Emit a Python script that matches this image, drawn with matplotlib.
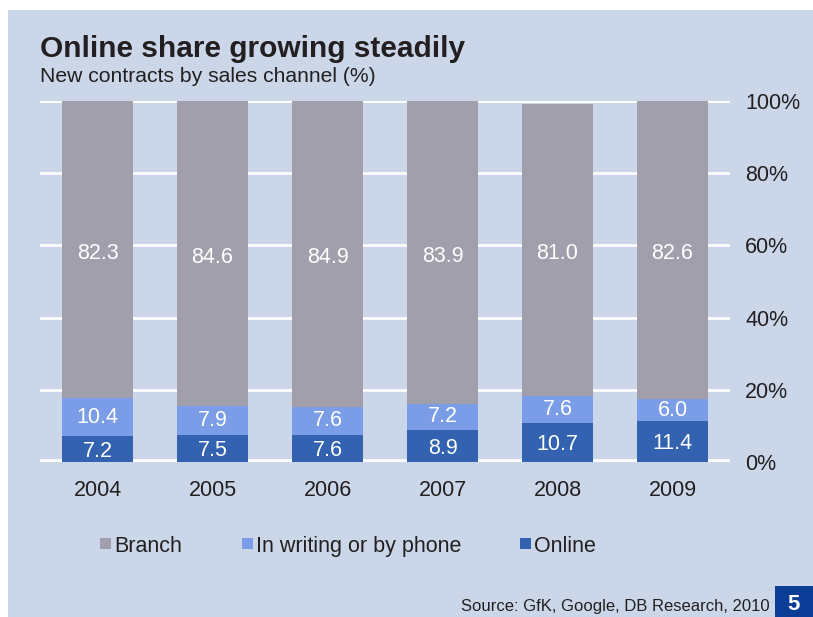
import matplotlib.pyplot as plt
from matplotlib.patches import Rectangle
import numpy as np

years = ['2004', '2005', '2006', '2007', '2008', '2009']
online = [7.2, 7.5, 7.6, 8.9, 10.7, 11.4]
writing = [10.4, 7.9, 7.6, 7.2, 7.6, 6.0]
branch = [82.3, 84.6, 84.9, 83.9, 81.0, 82.6]

c_branch = '#a09fab'
c_writing = '#7b9de8'
c_online = '#3262b0'
bg = '#cbd7e9'
ink = '#231f20'

plt.rcParams['font.family'] = ['Liberation Sans', 'DejaVu Sans']

W, H = 813, 617
fig = plt.figure(figsize=(W / 100, H / 100), dpi=100)
fig.patch.set_facecolor('white')
fig.patches.append(Rectangle((8 / W, 0), 1, 1 - 10 / H, transform=fig.transFigure,
                             facecolor=bg, edgecolor='none', zorder=-10))

ax = fig.add_axes([40 / W, (H - 462) / H, 690 / W, 361 / H])
ax.set_facecolor('none')
x = np.arange(len(years))
bw = 0.626

bottom2 = np.array(online)
bottom3 = bottom2 + np.array(writing)
ax.bar(x, online, bw, color=c_online, zorder=3, label='Online')
ax.bar(x, writing, bw, bottom=bottom2, color=c_writing, zorder=3, label='In writing or by phone')
ax.bar(x, branch, bw, bottom=bottom3, color=c_branch, zorder=3, label='Branch')

for i in range(len(years)):
    ax.text(x[i], online[i] / 2 - 0.6, f'{online[i]:.1f}', ha='center', va='center',
            color='white', fontsize=15.5, zorder=4)
    ax.text(x[i], bottom2[i] + writing[i] / 2, f'{writing[i]:.1f}', ha='center', va='center',
            color='white', fontsize=15.5, zorder=4)
    ax.text(x[i], bottom3[i] + branch[i] / 2 - 1, f'{branch[i]:.1f}', ha='center', va='center',
            color='white', fontsize=15.5, zorder=4)

ax.set_xlim(-0.5, 5.5)
ax.set_ylim(0, 100)
for v in [20, 40, 60, 80, 100]:
    ax.axhline(v, color='white', lw=2, zorder=2)
ax.axhline(0, color='white', lw=4, zorder=2)

ax.set_xticks(x)
ax.set_xticklabels(years, fontsize=15.5, color=ink)
ax.set_yticks([0, 20, 40, 60, 80, 100])
ax.set_yticklabels([f'{v}%' for v in [0, 20, 40, 60, 80, 100]], fontsize=15.5, color=ink)
ax.yaxis.tick_right()
ax.tick_params(axis='y', length=0, pad=11)
ax.tick_params(axis='x', length=0, pad=13)
for s in ax.spines.values():
    s.set_visible(False)

fig.text(40 / W, 1 - 49 / H, 'Online share growing steadily', fontsize=21.5, fontweight='heavy',
         color=ink, va='center')
fig.text(40 / W, 1 - 77 / H, 'New contracts by sales channel (%)', fontsize=15.2,
         color=ink, va='center')

# legend drawn manually as squares + labels
leg_items = [('Branch', c_branch, 100), ('In writing or by phone', c_writing, 242), ('Online', c_online, 520)]
for name, col, px in leg_items:
    fig.patches.append(Rectangle((px / W, 1 - 549 / H), 11 / W, 11 / H, transform=fig.transFigure,
                                 facecolor=col, edgecolor='none'))
    fig.text((px + 14) / W, 1 - 552 / H, name, fontsize=15.5, color=ink, va='baseline')

fig.text(770 / W, 1 - 606 / H, 'Source: GfK, Google, DB Research, 2010', fontsize=12,
         color=ink, ha='right', va='center')
fig.patches.append(Rectangle((775 / W, 0), 38 / W, 31 / H, transform=fig.transFigure,
                             facecolor='#0b3d96', edgecolor='none'))
fig.text(794 / W, 1 - 604 / H, '5', fontsize=16, fontweight='bold', color='white',
         ha='center', va='center')

fig.savefig('out.png', dpi=100, facecolor=fig.get_facecolor())
